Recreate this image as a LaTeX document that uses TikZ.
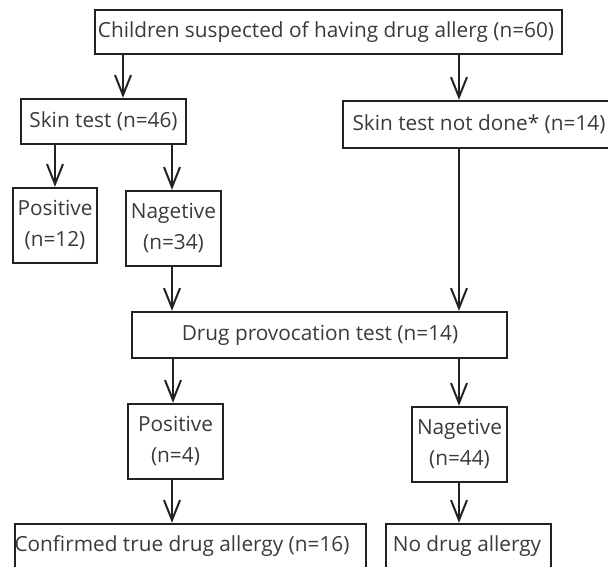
\documentclass[tikz,border=0pt]{standalone}
\usepackage{fontspec}
\setmainfont{Open Sans}
\usetikzlibrary{arrows.meta}
\definecolor{txt}{HTML}{3A3A3A}
\definecolor{ln}{HTML}{222222}
\begin{document}
\begin{tikzpicture}[x=1pt,y=-1pt,
  box/.style={draw=ln,line width=2.4pt,inner sep=0pt},
  arr/.style={draw=ln,line width=2pt,-{Straight Barb[length=20pt,width=16pt,line width=2pt]}},
  lbl/.style={text=txt,font=\fontsize{20.8}{31}\selectfont,align=center,inner sep=0pt}]
\useasboundingbox (0,0) rectangle (608,566);
\begin{scope}
\clip (0,0) rectangle (608,566);
\node[box,minimum width=467pt,minimum height=44pt] (top) at (328.5,32) {};
\node[box,minimum width=165pt,minimum height=45pt] (skin) at (103.5,121.5) {};
\node[box,minimum width=269pt,minimum height=47pt] (nd) at (477.5,124.5) {};
\node[box,minimum width=84pt,minimum height=75pt] (p1) at (55,225.5) {};
\node[box,minimum width=95pt,minimum height=75pt] (n1) at (173.5,228.5) {};
\node[box,minimum width=375pt,minimum height=46pt] (dpt) at (319.5,335) {};
\node[box,minimum width=95pt,minimum height=75pt] (p2) at (175.5,441.5) {};
\node[box,minimum width=95pt,minimum height=75pt] (n2) at (459.5,444.5) {};
\node[box,minimum width=351pt,minimum height=50pt] (conf) at (190.5,549) {};
\node[box,minimum width=165pt,minimum height=50pt] (nod) at (468.5,549) {};
\end{scope}
\node[lbl] (ttop) at (326,32) {Children suspected of having drug allerg (n=60)};
\node[lbl] (tskin) at (103.5,121.5) {Skin test (n=46)};
\node[lbl] (tnd) at (479,124.5) {Skin test not done* (n=14)};
\node[lbl] (tp1) at (55,225.5) {Positive\\(n=12)};
\node[lbl] (tn1) at (173.5,228.5) {Nagetive\\(n=34)};
\node[lbl] (tdpt) at (320,335) {Drug provocation test (n=14)};
\node[lbl] (tp2) at (175.5,441.5) {Positive\\(n=4)};
\node[lbl] (tn2) at (459.5,444.5) {Nagetive\\(n=44)};
\node[lbl] (tconf) at (182,546) {Confirmed true drug allergy (n=16)};
\node[lbl] (tnod) at (467,546) {No drug allergy};
\draw[arr] (top.south -| 123,0) -- (skin.north -| 123,0);
\draw[arr] (top.south -| 459,0) -- (nd.north -| 459,0);
\draw[arr] (skin.south -| 55,0) -- (p1.north -| 55,0);
\draw[arr] (skin.south -| 172,0) -- (n1.north -| 172,0);
\draw[arr] (n1.south -| 172,0) -- (dpt.north -| 172,0);
\draw[arr] (nd.south -| 459,0) -- (dpt.north -| 459,0);
\draw[arr] (dpt.south -| 173,0) -- (p2.north -| 173,0);
\draw[arr] (dpt.south -| 459,0) -- (n2.north -| 459,0);
\draw[arr] (p2.south -| 172,0) -- (conf.north -| 172,0);
\draw[arr] (n2.south -| 459,0) -- (nod.north -| 459,0);
\end{tikzpicture}
\end{document}
